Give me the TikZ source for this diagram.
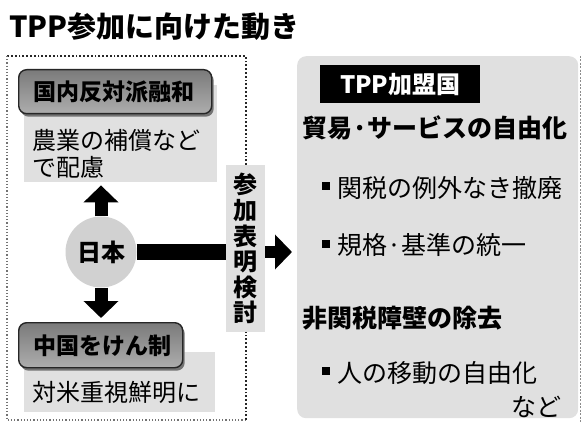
\documentclass[tikz,border=0pt]{standalone}
\usepackage{fontspec}
\setmainfont{Noto Sans CJK JP}
\usetikzlibrary{arrows.meta,shadows}
\begin{document}
\begin{tikzpicture}[x=1pt,y=-1pt,
  lightbox/.style={fill=black!12, draw=none, inner sep=0pt, anchor=north west},
  tagbox/.style={draw=black!85, line width=1.4pt, rounded corners=8pt,
    top color=black!52, bottom color=black!32, anchor=north west, inner sep=0pt,
    drop shadow={shadow xshift=2pt, shadow yshift=-3pt, fill=black!55, opacity=1}},
  tagtext/.style={font=\bfseries\fontsize{23}{25}\selectfont, anchor=west, inner sep=0pt},
  bodytext/.style={font=\fontsize{24}{27}\selectfont, anchor=west, inner sep=0pt, align=left},
  headtext/.style={font=\bfseries\fontsize{25}{27}\selectfont, anchor=west, inner sep=0pt},
  itemtext/.style={font=\fontsize{25}{27}\selectfont, anchor=west, inner sep=0pt},
  dotline/.style={dotted, line width=1.8pt, black!85},
  dotlight/.style={dotted, line width=1.2pt, black!55},
  fatarrow/.style={line width=#1, -{Triangle[width=34pt,length=17pt]}},
]
\useasboundingbox (0,0) rectangle (581,422);
\fill[white] (0,0) rectangle (581,422);

% title
\node[font=\bfseries\fontsize{29}{31}\selectfont, anchor=west, inner sep=0pt] (title) at (9,27) {TPP参加に向けた動き};

% right gray box
\node[fill=black!12, rounded corners=9pt, minimum width=281pt, minimum height=362pt, anchor=north west, inner sep=0pt] (tpp) at (297,56) {};
\draw[black!45, line width=0.6pt, dashed, dash pattern=on 2pt off 1.5pt] (tpp.north east) ++(2,0) coordinate (edgeA) -- ++(0,366) coordinate (edgeB);

\node[fill=black, minimum width=160pt, minimum height=38pt, anchor=north west, inner sep=0pt] (hdr) at (320,65) {};
\node[font=\bfseries\fontsize{24}{26}\selectfont, text=white, inner sep=0pt] (hdrt) at (hdr.center) {TPP加盟国};

\node[headtext] (h1) at (302,128) {貿易·サービスの自由化};
\node[itemtext] (i1) at (322,188) {\raisebox{7pt}{\rule{8pt}{8pt}}\hspace{7pt}関税の例外なき撤廃};
\node[itemtext] (i2) at (322,245) {\raisebox{7pt}{\rule{8pt}{8pt}}\hspace{7pt}規格·基準の統一};
\node[headtext] (h2) at (302,318) {非関税障壁の除去};
\node[itemtext] (i3) at (322,373) {\raisebox{7pt}{\rule{8pt}{8pt}}\hspace{7pt}人の移動の自由化};
\node[itemtext, anchor=east] (i4) at (562,407) {など};

% vertical label
\node[fill=black!12, minimum width=39pt, minimum height=167pt, inner sep=0pt, anchor=north west] (lab) at (226,165) {};
\node[font=\bfseries\fontsize{24}{25.6}\selectfont, align=center, inner sep=0pt] (labt) at (lab.center) {参\\加\\表\\明\\検\\討};

% dotted frame
\draw[dotline] (lab.north) -- (lab.north |- 0,56) coordinate (tr) -- (7,56) coordinate (tl);
\draw[dotlight] (tl) -- (7,420) coordinate (bl) -- (lab.south |- 0,420) coordinate (br);
\draw[dotline] (br) -- (lab.south);

% upper left group
\node[lightbox, minimum width=193pt, minimum height=97pt] (bg1) at (24,85) {};
\node[tagbox, minimum width=193pt, minimum height=44pt] (tag1) at (18,69) {};
\node[tagtext] (tag1t) at (33,92) {国内反対派融和};
\node[bodytext] (body1) at (32,154) {農業の補償など\\で配慮};

% lower left group
\node[lightbox, minimum width=191pt, minimum height=60pt] (bg2) at (24,352) {};
\node[tagbox, minimum width=164pt, minimum height=45pt] (tag2) at (18,322) {};
\node[tagtext] (tag2t) at (33,346) {中国をけん制};
\node[bodytext] (body2) at (32,392) {対米重視鮮明に};

% Japan
\node[circle, fill=black!18, minimum size=71pt, inner sep=0pt] (jp) at (101,252) {};
\node[font=\bfseries\fontsize{24}{26}\selectfont, inner sep=0pt] (jpt) at (jp.center) {日本};

% arrows
\draw[fatarrow=13pt, shorten >=3pt] (jp.north) -- (bg1.south -| jp.north);
\draw[fatarrow=13pt, shorten >=4pt] (jp.south) -- (tag2.north -| jp.south);
\draw[line width=15pt] (jp.east) -- (lab.west |- jp.east);
\draw[fatarrow=11pt, shorten >=5pt] (lab.east |- jp.east) -- (tpp.west |- jp.east);
\end{tikzpicture}
\end{document}
